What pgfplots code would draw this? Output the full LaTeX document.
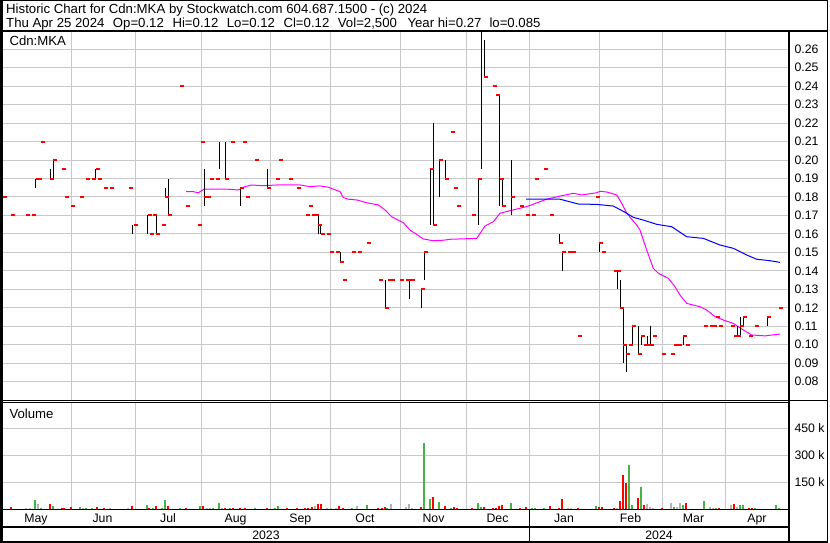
\documentclass[border=0pt]{standalone}
\usepackage{pgfplots}
\pgfplotsset{compat=1.18}
\usepackage{fontspec}
\setmainfont{Liberation Sans}
\definecolor{gridc}{RGB}{200,200,200}
\definecolor{vgreen}{RGB}{68,180,68}
\definecolor{vred}{RGB}{255,0,0}
\definecolor{vgray}{RGB}{180,180,180}
\definecolor{mag}{RGB}{255,0,255}
\definecolor{mblue}{RGB}{0,0,255}
\pgfplotsset{panel/.style={scale only axis, anchor=south west, width=786.3pt, xmin=3, xmax=789.3,
  axis line style={draw=none}, tick style={draw=none}, major tick length=0pt,
  grid=major, major grid style={gridc, line width=1pt},
  xtick={71.3,135.3,201.3,270.3,330.3,400.3,466.7,529.3,599.7,662.7,725.3}, xticklabels={},
  xticklabel style={inner sep=0pt},
  yticklabel pos=right,
  yticklabel style={anchor=west, inner sep=0pt, xshift=5pt, font=\fontsize{12.3}{14}\selectfont}}}
\newcommand{\tf}{\fontsize{13.2}{15}\selectfont}
\newcommand{\af}{\fontsize{12.3}{14}\selectfont}
\begin{document}
\begin{tikzpicture}
\useasboundingbox (0pt,0pt) rectangle (830pt,543pt);
% price panel
\begin{axis}[panel, at={(3pt,142.3pt)}, height=369.2pt, ymin=0.06971, ymax=0.26961,
  ytick={0.08,0.09,0.10,0.11,0.12,0.13,0.14,0.15,0.16,0.17,0.18,0.19,0.20,0.21,0.22,0.23,0.24,0.25,0.26},
  yticklabels={0.08,0.09,0.10,0.11,0.12,0.13,0.14,0.15,0.16,0.17,0.18,0.19,0.20,0.21,0.22,0.23,0.24,0.25,0.26}]
\addplot[mag, line width=1pt] coordinates {
(186,0.1829) (193.3,0.1829) (198.3,0.1823) (204,0.1842) (228.3,0.1842) (238.3,0.1838) (245,0.1856) (251.7,0.1865) (263.3,0.1861) (276.7,0.1865) (300,0.1865) (310,0.1856) (320,0.1860) (328.3,0.1853) (340,0.1829) (343.3,0.1797) (348.3,0.1788) (356.7,0.1784) (366.7,0.1769) (378.3,0.1757) (385,0.1730) (391.7,0.1693) (403.3,0.1661) (410,0.1621) (415,0.1603) (423.3,0.1573) (433.3,0.1563) (443.3,0.1566) (450,0.1571) (476.7,0.1576) (480,0.1603) (485,0.1643) (493.3,0.1666) (500,0.1712) (510,0.1726) (526.7,0.1748) (546.7,0.1788) (560,0.1805) (573.3,0.1820) (581.7,0.1811) (596.7,0.1823) (600,0.1831) (606.7,0.1827) (616.7,0.1811) (621.7,0.1766) (626.7,0.1712) (636.7,0.1648) (640,0.1621) (646.7,0.1513) (653.3,0.1414) (658.3,0.1387) (668.3,0.1360) (675,0.1314) (680,0.1269) (686.7,0.1224) (700,0.1206) (706.7,0.1188) (715,0.1152) (723.3,0.1134) (733.3,0.1116) (743.3,0.1080) (751.7,0.1053) (765,0.1048) (780,0.1058)};
\addplot[mblue, line width=1pt] coordinates {
(526,0.1788) (560,0.1788) (578.3,0.1762) (596.7,0.1760) (613.3,0.1751) (626.7,0.1712) (633.3,0.1690) (643.3,0.1675) (656.7,0.1652) (671.7,0.1639) (686.7,0.1585) (703.3,0.1576) (720,0.1540) (733.3,0.1522) (746.7,0.1486) (756.7,0.1463) (770,0.1455) (780,0.1446)};
\addplot[black, line width=1pt, unbounded coords=jump] coordinates {
(35.7,0.185) (35.7,0.19) (35.7,nan)
(50.7,0.19) (50.7,0.195) (50.7,nan)
(53.7,0.19) (53.7,0.20) (53.7,nan)
(95.7,0.19) (95.7,0.195) (95.7,nan)
(132.3,0.16) (132.3,0.165) (132.3,nan)
(147.3,0.16) (147.3,0.17) (147.3,nan)
(156.3,0.16) (156.3,0.17) (156.3,nan)
(165.7,0.18) (165.7,0.185) (165.7,nan)
(168.3,0.17) (168.3,0.19) (168.3,nan)
(204.3,0.175) (204.3,0.195) (204.3,nan)
(219.3,0.195) (219.3,0.21) (219.3,nan)
(225.3,0.19) (225.3,0.21) (225.3,nan)
(240.3,0.175) (240.3,0.185) (240.3,nan)
(267.3,0.185) (267.3,0.195) (267.3,nan)
(318.3,0.16) (318.3,0.17) (318.3,nan)
(320.7,0.16) (320.7,0.165) (320.7,nan)
(340,0.145) (340,0.15) (340,nan)
(385.3,0.12) (385.3,0.135) (385.3,nan)
(409.3,0.125) (409.3,0.135) (409.3,nan)
(421.3,0.12) (421.3,0.13) (421.3,nan)
(424.3,0.135) (424.3,0.15) (424.3,nan)
(430.7,0.165) (430.7,0.195) (430.7,nan)
(433.3,0.165) (433.3,0.22) (433.3,nan)
(439.3,0.18) (439.3,0.20) (439.3,nan)
(445,0.19) (445,0.20) (445,nan)
(478.3,0.165) (478.3,0.19) (478.3,nan)
(481.7,0.195) (481.7,0.27) (481.7,nan)
(484.3,0.245) (484.3,0.265) (484.3,nan)
(499,0.175) (499,0.235) (499,nan)
(502.3,0.175) (502.3,0.19) (502.3,nan)
(511.3,0.17) (511.3,0.20) (511.3,nan)
(559.3,0.155) (559.3,0.16) (559.3,nan)
(562.3,0.14) (562.3,0.15) (562.3,nan)
(599.3,0.15) (599.3,0.155) (599.3,nan)
(617,0.13) (617,0.14) (617,nan)
(620.3,0.12) (620.3,0.135) (620.3,nan)
(623,0.09) (623,0.12) (623,nan)
(626.3,0.085) (626.3,0.10) (626.3,nan)
(632.3,0.10) (632.3,0.11) (632.3,nan)
(638.3,0.095) (638.3,0.11) (638.3,nan)
(641.3,0.10) (641.3,0.105) (641.3,nan)
(647.3,0.10) (647.3,0.105) (647.3,nan)
(650.3,0.10) (650.3,0.11) (650.3,nan)
(683.3,0.10) (683.3,0.105) (683.3,nan)
(737.3,0.105) (737.3,0.11) (737.3,nan)
(740,0.105) (740,0.115) (740,nan)
(743,0.11) (743,0.115) (743,nan)
(767,0.11) (767,0.115)};
\addplot[only marks, mark=-, mark size=2pt, color=vred, mark options={line width=2pt}] coordinates {
(4.5,0.18) (13,0.17) (28,0.17) (34,0.17) (37.7,0.19) (40.3,0.19) (42.8,0.21) (51.7,0.19) (55.2,0.20) (64.2,0.195) (66.8,0.18) (73,0.175) (82,0.18) (88,0.19) (94,0.19) (97.7,0.195) (100,0.19) (106,0.185) (112,0.185) (131,0.185) (135.5,0.165) (149.7,0.17) (152,0.16) (155,0.17) (158,0.16) (164,0.165) (167.3,0.18) (170.3,0.17) (182,0.24) (188,0.175) (200,0.165) (203.2,0.21) (206.3,0.18) (208.5,0.18) (212,0.19) (218,0.19) (227.2,0.19) (233.2,0.21) (242,0.185) (245.2,0.21) (248,0.18) (257,0.20) (269.2,0.185) (278.3,0.19) (281.2,0.20) (290.5,0.19) (299,0.185) (307.7,0.17) (311,0.175) (314.3,0.17) (316.5,0.17) (320,0.165) (323,0.16) (329,0.16) (332,0.15) (338,0.15) (342,0.145) (345,0.135) (354,0.15) (360,0.15) (369,0.155) (381,0.135) (387,0.12) (390,0.135) (393,0.135) (402,0.135) (408.3,0.135) (411.3,0.135) (413.3,0.135) (422.7,0.13) (426.3,0.15) (431.7,0.195) (435.3,0.165) (441.3,0.20) (447,0.19) (453,0.215) (456,0.185) (459.2,0.175) (474,0.17) (480.3,0.19) (483.5,0.27) (486.3,0.245) (495.2,0.24) (498,0.235) (501.7,0.19) (504.2,0.175) (513.2,0.18) (522,0.175) (528,0.17) (534,0.17) (537,0.19) (546,0.195) (552,0.17) (561.3,0.155) (564.3,0.15) (570.3,0.15) (574,0.15) (579.7,0.105) (598,0.18) (601.3,0.155) (604,0.15) (615.7,0.14) (618.7,0.14) (622.2,0.12) (625.2,0.10) (628.3,0.095) (631.2,0.10) (634.2,0.11) (640.2,0.095) (643.2,0.105) (646.2,0.10) (649.3,0.10) (652,0.10) (655.2,0.105) (664.2,0.095) (673.2,0.095) (676.3,0.10) (680,0.10) (685.3,0.105) (688,0.10) (706.2,0.11) (712.3,0.11) (714.7,0.11) (721,0.11) (718.2,0.115) (733.2,0.11) (736.3,0.105) (738.7,0.105) (742,0.11) (745,0.115) (751.3,0.105) (757,0.11) (769,0.115) (780.8,0.12)};
\end{axis}
% volume panel
\begin{axis}[panel, at={(3pt,33.5pt)}, height=107.2pt, ymin=0, ymax=595.6,
  ytick={150,300,450}, yticklabels={150 k,300 k,450 k}]
\addplot[ycomb, color=vgreen, line width=2pt] coordinates {
(35,52) (40.7,9) (52.7,19) (80,13) (86,9) (91.7,7) (146.7,24) (152.7,11) (161.7,9) (164.7,54) (180,9) (200,22) (212.7,11) (218.7,35) (230,9) (255,7) (275,9) (278.3,19) (351.7,9) (366.7,24) (387.3,9) (423.7,368) (430,57) (438.7,41) (450.7,9) (477.7,35) (480.7,15) (510.7,35) (532,7) (535,7) (544,7) (595.7,20) (628.7,246) (631.7,24) (640.7,124) (674,13) (683,24) (703.7,46) (716,7) (739.7,24) (742.7,24) (754.7,7) (776,24) (779,7)};
\addplot[ycomb, color=vred, line width=2pt] coordinates {
(11,13) (50,30) (61.7,9) (64.3,9) (70.7,13) (97.3,13) (104,11) (132.3,19) (149.3,9) (155.7,19) (167.7,20) (185.7,7) (203.3,22) (225,9) (233.3,7) (240,9) (245,9) (266.7,9) (287.3,9) (296.7,11) (305,9) (308.3,11) (311.7,15) (318.3,30) (320.7,30) (339.3,19) (342.7,11) (378.3,9) (381.7,11) (385,15) (420.7,15) (432.7,69) (444.7,19) (454,15) (456.7,9) (471.7,9) (483.7,13) (492.7,7) (496,9) (499,19) (501.7,24) (520,7) (525.7,13) (550,19) (559,7) (562,57) (577.7,9) (598.7,15) (601.7,13) (613.7,9) (619.7,46) (622.7,191) (625.7,146) (637.7,65) (643.7,24) (662,7) (686,35) (719,7) (733.7,30) (748.7,7) (751.7,7)};
\addplot[ycomb, color=vgray, line width=2pt] coordinates {
(1.7,22) (26,7) (30,11) (37.7,28) (82.7,7) (110,11) (128.3,7) (206.7,9) (210,9) (221.7,11) (315,20) (327.3,11) (330.7,9) (335.7,9) (357.3,19) (391,28) (406,15) (408.7,30) (411.7,9) (568.3,9) (571.3,9) (616.7,9) (646.7,28) (650,15) (652.7,9) (671,35) (677,15) (680,35) (710,15) (713.3,9) (730.7,24) (736.7,15)};
\end{axis}
\begin{scope}[x=1pt,y=1pt]
% frame
\draw[line width=1pt] (0,542.5) -- (828.3,542.5);
\draw[line width=1pt] (827.7,543) -- (827.7,0);
\draw[line width=2.5pt] (1.25,543) -- (1.25,0);
\draw[line width=1.7pt] (0,1.15) -- (828.3,1.15);
\draw[line width=2pt] (0,512) -- (828.3,512);
\draw[line width=1.7pt] (789.2,512) -- (789.2,1);
\draw[line width=0.9pt] (0,142.3) -- (789,142.3);
\draw[line width=0.9pt] (0,140.7) -- (789,140.7);
\draw[line width=0.9pt] (789,142.8) -- (828,142.8);
\draw[line width=1.5pt] (0,33.5) -- (789,33.5);
\draw[line width=1.7pt] (0,16.2) -- (789,16.2);
\draw[line width=1.3pt] (529.3,33.5) -- (529.3,1);
% texts
\node[anchor=base west, inner sep=0pt, font=\tf] at (6,529.7) {Historic Chart for Cdn:MKA by Stockwatch.com 604.687.1500 - (c) 2024};
\node[anchor=base west, inner sep=0pt, font=\tf] at (6,515.3) {Thu Apr 25 2024};
\node[anchor=base west, inner sep=0pt, font=\tf] at (112.7,515.3) {Op=0.12};
\node[anchor=base west, inner sep=0pt, font=\tf] at (172.3,515.3) {Hi=0.12};
\node[anchor=base west, inner sep=0pt, font=\tf] at (226.7,515.3) {Lo=0.12};
\node[anchor=base west, inner sep=0pt, font=\tf] at (283.3,515.3) {Cl=0.12};
\node[anchor=base west, inner sep=0pt, font=\tf] at (337.7,515.3) {Vol=2,500};
\node[anchor=base west, inner sep=0pt, font=\tf] at (407.3,515.3) {Year hi=0.27};
\node[anchor=base west, inner sep=0pt, font=\tf] at (489.3,515.3) {lo=0.085};
\node[anchor=base west, inner sep=0pt, font=\tf] at (9.3,497) {Cdn:MKA};
\node[anchor=base west, inner sep=0pt, font=\tf] at (9.3,124.7) {Volume};
\foreach \m/\xx in {May/36,Jun/102.5,Jul/168,Aug/235.5,Sep/300.3,Oct/365,Nov/433.5,Dec/497.5,Jan/564,Feb/630.5,Mar/693.5,Apr/757}
  \node[anchor=base, inner sep=0pt, font=\af] at (\xx,20.7) {\m};
\node[anchor=base, inner sep=0pt, font=\af] at (266,3.5) {2023};
\node[anchor=base, inner sep=0pt, font=\af] at (659,3.5) {2024};
\end{scope}
\end{tikzpicture}
\end{document}
